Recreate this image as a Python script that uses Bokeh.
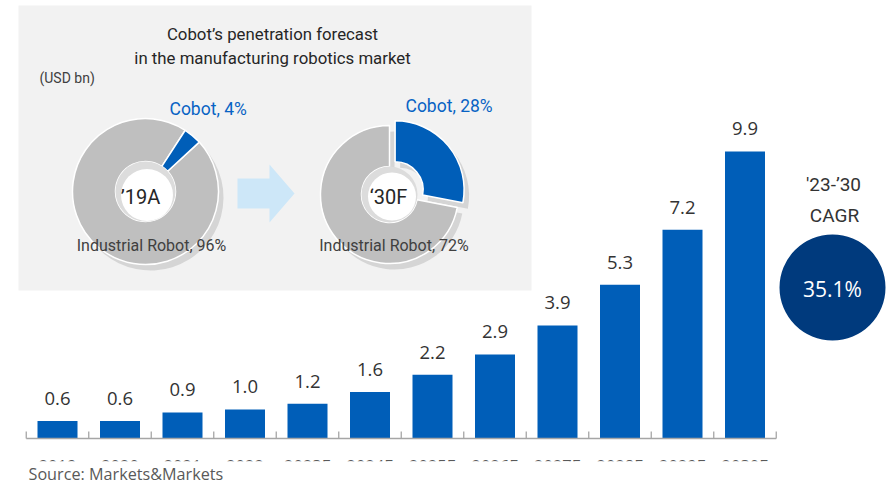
import numpy as np
from bokeh.plotting import figure
from bokeh.models import Range1d
from bokeh.core.properties import value
from bokeh.embed import file_html
from bokeh.resources import INLINE

# ---------------- data ----------------
years = ["2019", "2020", "2021", "2022", "2023E", "2024E", "2025E",
         "2026E", "2027E", "2028E", "2029E", "2030E"]
market = [0.6, 0.6, 0.9, 1.0, 1.2, 1.6, 2.2, 2.9, 3.9, 5.3, 7.2, 9.9]
pie_years = ["’19A", "‘30F"]
cobot_share = [0.04, 0.28]
industrial_share = [0.96, 0.72]
cagr_period = ["'23-’30", "CAGR"]
cagr_value = 35.1
title_lines = ["Cobot’s penetration forecast", "in the manufacturing robotics market"]
unit_label = "(USD bn)"
source_label = "Source: Markets&Markets"

# ---------------- styling ----------------
W, H = 888, 485
BLUE = "#005EB8"
TEXT_BLUE = "#0863C4"
GRAY = "#BFBFBF"
SHADOW = "#D5D5D5"
DARK = "#333333"
MID = "#595959"
ROB = value("Roboto")
OS = value("Open Sans")
K = 0.3  # baseline -> middle shift (em)


def Y(img_y):
    return H - img_y


def YB(baseline, fs):
    """y (middle) for a text whose alphabetic baseline sits at image y `baseline`."""
    return Y(baseline - K * fs)


p = figure(width=W, height=H, output_backend="svg", toolbar_location=None,
           x_range=Range1d(-0.912, 13.296), y_range=Range1d(-1.621, 15.103),
           x_axis_location=None, y_axis_location=None, min_border=0,
           title=None, background_fill_color="white", border_fill_color="white")
p.extra_x_ranges = {"px": Range1d(0, W)}
p.extra_y_ranges = {"py": Range1d(0, H)}
p.grid.visible = False
p.outline_line_color = None
P = dict(x_range_name="px", y_range_name="py")
T = dict(text_baseline="middle")

# inset panel
p.quad(left=[18], right=[531], top=[Y(5)], bottom=[Y(290)], fill_color="#F2F2F2",
       line_color=None, **P)


def donut(cx, cy, r_out, r_in, share, rot, explode, hole_r, hole_dx, hole_dy):
    a0 = 90.0 - rot
    cob = (np.radians(a0 - 360 * share), np.radians(a0))
    ind = (np.radians(a0 - 360), np.radians(a0 - 360 * share))
    bis = np.radians(a0 - 180 * share)
    ex, ey = explode * np.cos(bis), explode * np.sin(bis)
    X, YY = cx, Y(cy)
    for (s, e), dx, dy in [(ind, 0, 0), (cob, ex, ey)]:
        p.annular_wedge(x=[X + dx + 5], y=[YY + dy - 6], inner_radius=r_in, outer_radius=r_out,
                        start_angle=[s], end_angle=[e], fill_color=SHADOW, line_color=None, **P)
    p.annular_wedge(x=[X], y=[YY], inner_radius=r_in, outer_radius=r_out,
                    start_angle=[ind[0]], end_angle=[ind[1]], fill_color=GRAY,
                    line_color="white", line_width=1.5, **P)
    p.annular_wedge(x=[X + ex], y=[YY + ey], inner_radius=r_in, outer_radius=r_out,
                    start_angle=[cob[0]], end_angle=[cob[1]], fill_color=BLUE,
                    line_color="white", line_width=1.5, **P)
    p.circle(x=[X], y=[YY], radius=r_in, fill_color="#DCDCDC", line_color=None, **P)
    p.circle(x=[X + hole_dx], y=[YY - hole_dy], radius=hole_r, fill_color="white",
             line_color=None, **P)


donut(145, 191, 73, 30, cobot_share[0], 33, 0, 26, 1.5, 3.5)
donut(389, 194, 69, 28, cobot_share[1], 0, 7.3, 24, 2.5, 2)

# arrow
p.patch(x=[237, 269, 269, 294, 269, 269, 237],
        y=[Y(178), Y(178), Y(164), Y(193), Y(222), Y(208), Y(208)],
        fill_color="#CDE7F8", line_color=None, **P)

# pie texts
p.text(x=[140, 388], y=[YB(202, 20), YB(202, 20)], text=pie_years, text_align="center",
       text_font=ROB, text_font_size="20px", text_color="#262626", **T, **P)
p.text(x=[169, 405], y=[YB(114, 17.5), YB(111, 17.5)],
       text=[f"Cobot, {round(s * 100)}%" for s in cobot_share], text_align="left",
       text_font=ROB, text_font_size="17.5px", text_color=TEXT_BLUE, **T, **P)
p.text(x=[151, 393.5], y=[YB(250, 16), YB(250, 16)],
       text=[f"Industrial Robot, {round(s * 100)}%" for s in industrial_share],
       text_align="center", text_font=ROB, text_font_size="16px",
       text_color="#404040", **T, **P)
p.text(x=[272, 272], y=[YB(39, 16.8), YB(63, 16.8)], text=title_lines, text_align="center",
       text_font=ROB, text_font_size="16.8px", text_color="#262626", **T, **P)
p.text(x=[39], y=[YB(82, 14)], text=[unit_label], text_align="left",
       text_font=ROB, text_font_size="14px", text_color="#404040", **T, **P)

# bars
idx = list(range(len(years)))
p.vbar(x=idx, top=market, bottom=0, width=0.64, fill_color=BLUE, line_color=None)
p.text(x=idx, y=market, text=[f"{v:.1f}" for v in market], y_offset=-(17 + K * 18.5),
       text_align="center", text_font=OS, text_font_size="18.5px", text_color=DARK, **T)

# axis
p.segment(x0=[-0.5], x1=[len(years) - 0.5], y0=[0], y1=[0], line_color="#A6A6A6",
          line_width=1.5)
tick_x = [i - 0.5 for i in range(len(years) + 1)]
p.segment(x0=tick_x, x1=tick_x, y0=[Y(438)] * len(tick_x), y1=[Y(431)] * len(tick_x),
          line_color="#A6A6A6", line_width=1.3, y_range_name="py")
p.text(x=idx, y=[YB(470, 16.5)] * len(idx), text=years, text_align="center",
       text_font=OS, text_font_size="16.5px", text_color=MID, y_range_name="py", **T)
p.quad(left=[0], right=[W], top=[Y(460.8)], bottom=[Y(H + 2)], fill_color="white",
       line_color=None, **P)
p.text(x=[28], y=[YB(478.5, 16.2)], text=[source_label], text_align="left",
       text_font=OS, text_font_size="16.2px", text_color=MID, **T, **P)

# CAGR
p.circle(x=[832], y=[Y(287)], radius=53, fill_color="#003A7D", line_color=None, **P)
p.text(x=[833, 834], y=[YB(190, 19), YB(221, 19)], text=cagr_period, text_align="center",
       text_font=ROB, text_font_size="19px", text_color=DARK, **T, **P)
p.text(x=[832], y=[YB(295, 21)], text=[f"{cagr_value:.1f}%"], text_align="center",
       text_font=OS, text_font_size="21px", text_color="white", **T, **P)

open("out.html", "w").write(file_html(p, INLINE))
